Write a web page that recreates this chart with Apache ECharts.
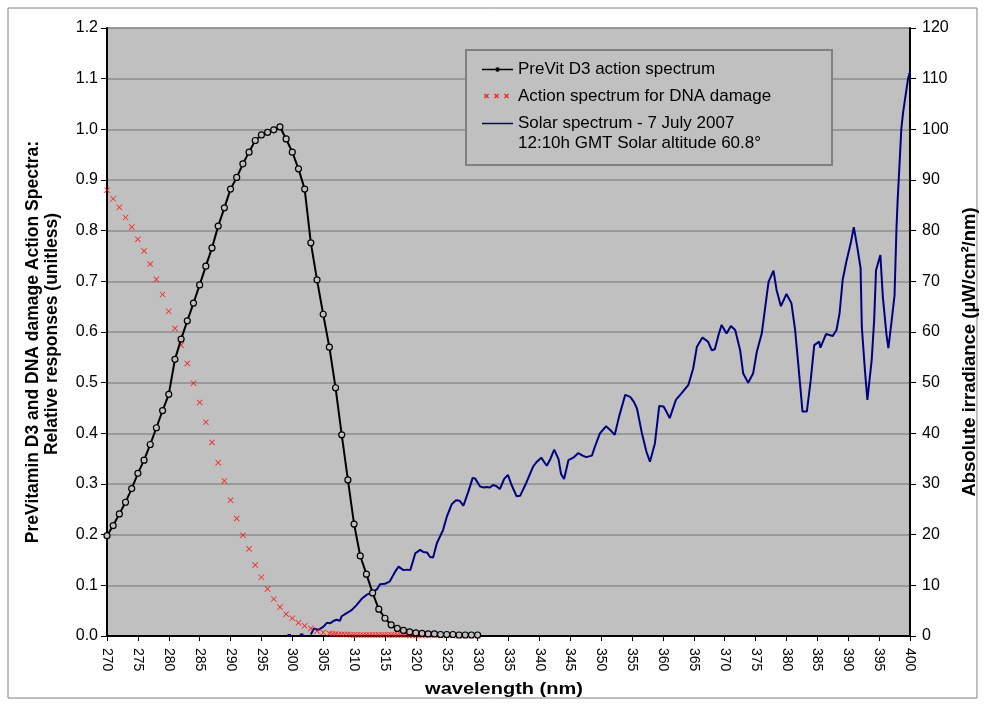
<!DOCTYPE html>
<html lang="en">
<head>
    <meta charset="UTF-8">
    <title>PreVitamin D3 / DNA damage action spectra and solar spectrum</title>
    <script src="https://cdn.jsdelivr.net/npm/echarts@6/dist/echarts.min.js"></script>
    <style>
        html, body { margin: 0; padding: 0; background: #fff; }
        #graph { width: 984px; height: 705px; }
    </style>
</head>
<body>
<div id="graph"></div>
<script>
    // PreVit D3 action spectrum, 1 nm steps
    var previtNm = [270,271,272,273,274,275,276,277,278,279,280,281,282,283,284,285,286,287,288,289,
        290,291,292,293,294,295,296,297,298,299,300,301,302,303,304,305,306,307,308,309,
        310,311,312,313,314,315,316,317,318,319,320,321,322,323,324,325,326,327,328,329,330];
    var previtVal = [0.198,0.218,0.241,0.264,0.291,0.321,0.347,0.378,0.411,0.445,0.477,0.546,0.586,0.622,0.657,0.693,0.730,0.766,0.809,0.845,
        0.882,0.905,0.932,0.955,0.978,0.989,0.994,0.999,1.005,0.981,0.955,0.922,0.882,0.776,0.703,0.635,0.570,0.490,0.397,0.308,
        0.221,0.158,0.122,0.085,0.053,0.035,0.022,0.015,0.011,0.008,0.006,0.005,0.004,0.004,0.003,0.003,0.003,0.002,0.002,0.002,0.002];

    // Action spectrum for DNA damage
    var dnaNm = [270,271,272,273,274,275,276,277,278,279,280,281,282,283,284,285,286,287,288,289,
        290,291,292,293,294,295,296,297,298,299,300,301,302,303,304,305,306,
        306.5,307,307.5,308,308.5,309,309.5,310,310.5,311,311.5,312,312.5,313,313.5,314,314.5,315,315.5,
        316,316.5,317,317.5,318,318.5,319,319.5,320,320.5,321,321.5,322,323,324,325,326,327,328,329,330];
    var dnaVal = [0.880,0.863,0.846,0.826,0.807,0.783,0.760,0.734,0.704,0.674,0.641,0.607,0.574,0.538,0.499,0.461,0.422,0.382,0.342,0.306,
        0.268,0.232,0.199,0.172,0.140,0.116,0.093,0.073,0.057,0.043,0.035,0.026,0.020,0.015,0.010,0.007,0.005,
        0.004,0.004,0.003,0.003,0.003,0.003,0.002,0.002,0.002,0.002,0.002,0.002,0.002,0.002,0.002,0.002,0.002,0.002,0.002,
        0.002,0.002,0.002,0.002,0.002,0.002,0.001,0.001,0.001,0.001,0.001,0.001,0.001,0.001,0.001,0.001,0.001,0.001,0.001,0.001,0.001];

    // Solar spectrum (uW/cm2/nm), null = gap in the record
    var solarNm = [299.2,299.8,300.5,301.2,301.8,302.4,
        303.0,303.5,304.2,305.0,305.6,306.1,306.7,307.2,307.7,308.0,308.8,309.6,310.4,311.2,312.0,312.9,313.7,314.2,315.0,315.8,
        316.6,317.2,318.0,318.6,319.1,319.9,320.7,321.2,321.8,322.3,322.8,323.4,324.4,325.0,325.8,326.5,327.1,327.7,328.5,329.2,
        329.6,330.4,331.0,331.5,332.0,332.5,333.0,333.6,334.3,334.9,335.5,336.3,336.9,337.9,339.0,339.6,340.3,340.8,341.2,341.8,
        342.4,343.1,343.5,344.0,344.7,345.5,346.3,347.0,347.6,348.5,349.0,349.8,350.8,351.6,352.2,352.9,353.9,354.7,355.3,355.8,
        356.6,357.3,357.9,358.7,359.4,360.1,360.6,361.1,362.1,363.0,364.1,364.9,365.5,366.4,367.3,367.9,368.4,369.0,369.5,370.3,
        371.0,371.7,372.5,373.0,373.8,374.6,375.2,376.0,376.5,377.1,377.9,378.4,379.1,380.0,380.8,381.4,381.9,382.6,383.3,383.9,
        384.5,385.3,385.5,386.4,387.5,388.1,388.6,389.1,389.7,390.4,390.9,391.5,392.0,392.2,392.7,393.1,393.8,394.2,394.5,395.2,
        395.6,396.2,396.5,397.1,397.5,397.8,398.0,398.3,398.6,398.9,399.3,399.7,400.0];
    var solarIrr = [0.2,0.2,null,0.3,0.3,null,
        0.3,1.5,1.2,1.8,2.6,2.5,3.0,3.2,3.0,3.9,4.5,5.1,6.1,7.3,8.1,8.6,9.2,10.2,10.3,10.8,
        12.6,13.7,13.0,13.1,13.0,16.3,17.0,16.6,16.5,15.6,15.5,18.3,20.9,23.5,26.0,26.8,26.7,25.7,28.5,31.2,
        31.1,29.5,29.3,29.4,29.3,29.8,29.6,29.0,31.0,31.8,29.8,27.6,27.7,30.3,33.5,34.4,35.2,34.3,33.6,35.0,
        36.8,34.9,32.0,31.0,34.7,35.2,36.1,35.6,35.3,35.6,37.4,40.0,41.4,40.5,39.7,43.3,47.6,47.2,46.2,44.9,
        40.0,36.5,34.4,38.0,45.4,45.3,44.2,43.0,46.6,47.9,49.5,52.8,57.1,58.9,58.1,56.4,56.6,59.4,61.4,59.7,
        61.2,60.4,56.4,51.8,50.0,51.8,56.1,59.7,64.3,69.9,72.1,68.3,65.1,67.5,65.7,60.4,53.8,44.3,44.3,50.2,
        57.4,58.1,56.9,59.6,59.2,60.4,63.7,70.3,73.9,77.5,80.7,76.5,72.6,61.0,52.5,46.6,54.5,62.4,72.2,75.2,
        67.0,59.4,56.8,63.0,67.3,80.1,86.0,93.0,100.2,103.5,106.8,110.1,111.4];

    var seriesNames = ['PreVit D3 action spectrum', 'Action spectrum for DNA damage', 'Solar spectrum - 7 July 2007'];
    var solarNote = '12:10h GMT Solar altitude 60.8\u00b0';

    function pairs(xs, ys) {
        var out = [];
        for (var i = 0; i < xs.length; i++) {
            out.push([xs[i], ys[i] === null ? '-' : ys[i]]);
        }
        return out;
    }

    var font = "'Liberation Sans', Arial, sans-serif";
    // legend icons, all padded to the same 31x14 box
    var box = 'path://M0,0L0.01,0.01M31,14L30.99,13.99';
    var previtIcon = box + 'M0,6.3L31,6.3L31,7.7L0,7.7Z' +
        'M13.3,7A2.2,2.2,0,1,1,17.7,7A2.2,2.2,0,1,1,13.3,7Z';
    var lineIcon = box + 'M0,6.2L31,6.2L31,7.8L0,7.8Z';
    var crossIcon = box +
        'M2,5L3,4L4.5,5.5L6,4L7,5L5.5,6.5L7,8L6,9L4.5,7.5L3,9L2,8L3.5,6.5Z' +
        'M12,5L13,4L14.5,5.5L16,4L17,5L15.5,6.5L17,8L16,9L14.5,7.5L13,9L12,8L13.5,6.5Z' +
        'M22,5L23,4L24.5,5.5L26,4L27,5L25.5,6.5L27,8L26,9L24.5,7.5L23,9L22,8L23.5,6.5Z';
    var crossSymbol = 'path://M0,1L1,0L5,4L9,0L10,1L6,5L10,9L9,10L5,6L1,10L0,9L4,5Z';

    var myChart = echarts.init(document.getElementById('graph'));
    var option = {
        backgroundColor: '#ffffff',
        animation: false,
        textStyle: { fontFamily: font },
        grid: {
            left: 107, right: 74, top: 28, bottom: 69,
            show: true,
            backgroundColor: '#C0C0C0',
            borderColor: '#808080',
            borderWidth: 1
        },
        legend: {
            orient: 'vertical',
            left: 482,
            top: 61,
            padding: 0,
            itemWidth: 31,
            itemHeight: 14,
            itemGap: 10,
            z: 5,
            textStyle: { fontSize: 17, color: '#000', lineHeight: 16, fontFamily: font, padding: [0, 0, 0, 0] },
            data: [
                { name: seriesNames[0], icon: previtIcon, itemStyle: { color: '#000', borderWidth: 0 } },
                { name: seriesNames[1], icon: crossIcon, itemStyle: { color: '#FF0000' } },
                { name: seriesNames[2], icon: lineIcon, itemStyle: { color: '#000080' } }
            ]
        },
        xAxis: {
            type: 'value',
            min: 270,
            max: 400,
            interval: 5,
            axisLine: { onZero: false, lineStyle: { color: '#000', width: 2 } },
            axisTick: { show: true, inside: false, length: 5, lineStyle: { color: '#000' } },
            axisLabel: { rotate: -90, fontSize: 14, color: '#000', margin: 12, fontFamily: font },
            splitLine: { show: false }
        },
        yAxis: [
            {
                type: 'value',
                min: 0,
                max: 1.2,
                interval: 0.1,
                axisLine: { show: true, lineStyle: { color: '#000', width: 2 } },
                axisTick: { show: true, inside: false, length: 6, lineStyle: { color: '#000' } },
                axisLabel: {
                    fontSize: 16, color: '#000', margin: 9, fontFamily: font,
                    formatter: function (v) { return v.toFixed(1); }
                },
                splitLine: { show: true, lineStyle: { color: '#8c8c8c', width: 1.5 } }
            },
            {
                type: 'value',
                min: 0,
                max: 120,
                interval: 10,
                position: 'right',
                axisLine: { show: true, lineStyle: { color: '#000', width: 2 } },
                axisTick: { show: true, inside: false, length: 6, lineStyle: { color: '#000' } },
                axisLabel: { fontSize: 16, color: '#000', margin: 12, fontFamily: font },
                splitLine: { show: false }
            }
        ],
        graphic: [
            {
                type: 'rect', z: 0, silent: true,
                shape: { x: 8, y: 8, width: 969, height: 690 },
                style: { fill: 'none', stroke: '#808080', lineWidth: 1 }
            },
            {
                type: 'rect', z: 3, silent: true,
                shape: { x: 466, y: 50, width: 366, height: 115 },
                style: { fill: '#C0C0C0', stroke: '#808080', lineWidth: 2 }
            },
            {
                type: 'text', z: 5, silent: true,
                x: 518, y: 143,
                style: { text: solarNote, font: '17px ' + font, fill: '#000', verticalAlign: 'middle' }
            },
            {
                type: 'text', silent: true,
                x: 504, y: 690, scaleX: 1.25,
                style: { text: 'wavelength (nm)', font: 'bold 16px ' + font, fill: '#000', align: 'center', verticalAlign: 'middle' }
            },
            {
                type: 'text', silent: true,
                x: 33, y: 342, rotation: Math.PI / 2,
                style: { text: 'PreVitamin D3 and DNA damage Action Spectra:', font: 'bold 17.5px ' + font, fill: '#000', align: 'center', verticalAlign: 'middle' }
            },
            {
                type: 'text', silent: true,
                x: 52, y: 334, rotation: Math.PI / 2,
                style: { text: 'Relative responses (unitless)', font: 'bold 17.5px ' + font, fill: '#000', align: 'center', verticalAlign: 'middle' }
            },
            {
                type: 'text', silent: true,
                x: 970, y: 352, rotation: Math.PI / 2,
                style: { text: 'Absolute irradiance (\u00b5W/cm\u00b2/nm)', font: 'bold 18.5px ' + font, fill: '#000', align: 'center', verticalAlign: 'middle' }
            }
        ],
        series: [
            {
                name: seriesNames[2],
                type: 'line',
                yAxisIndex: 1,
                data: pairs(solarNm, solarIrr),
                showSymbol: false,
                symbol: 'none',
                connectNulls: false,
                lineStyle: { color: '#000080', width: 2 },
                itemStyle: { color: '#000080' },
                z: 2
            },
            {
                name: seriesNames[1],
                type: 'scatter',
                yAxisIndex: 0,
                data: pairs(dnaNm, dnaVal),
                symbol: crossSymbol,
                symbolSize: 6,
                itemStyle: { color: '#FF0000' },
                z: 3
            },
            {
                name: seriesNames[0],
                type: 'line',
                yAxisIndex: 0,
                data: pairs(previtNm, previtVal),
                symbol: 'circle',
                symbolSize: 6,
                showAllSymbol: true,
                lineStyle: { color: '#000', width: 2 },
                itemStyle: { color: '#C0C0C0', borderColor: '#000', borderWidth: 1.2 },
                z: 4
            }
        ]
    };

    myChart.setOption(option);
</script>
</body>
</html>
